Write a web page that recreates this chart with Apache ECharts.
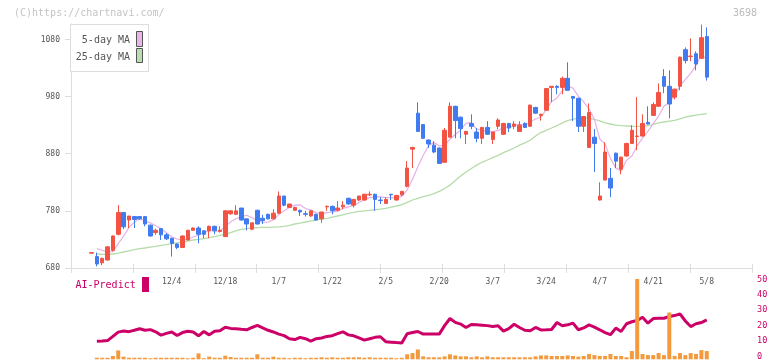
<!DOCTYPE html>
<html><head><meta charset="utf-8">
<script src="https://cdn.jsdelivr.net/npm/echarts@6/dist/echarts.min.js"></script>
<style>html,body{margin:0;padding:0;background:#fff}#c{width:772px;height:361px}</style>
</head><body><div id="c"></div>
<script>
const dates = ['11/13','11/14','11/15','11/18','11/19','11/20','11/21','11/22','11/25','11/26','11/27','11/28','11/29','12/2','12/3','12/4','12/5','12/6','12/9','12/10','12/11','12/12','12/13','12/16','12/17','12/18','12/19','12/20','12/23','12/24','12/25','12/26','12/27','12/30','1/6','1/7','1/8','1/9','1/10','1/14','1/15','1/16','1/17','1/20','1/21','1/22','1/23','1/24','1/27','1/28','1/29','1/30','1/31','2/3','2/4','2/5','2/6','2/7','2/10','2/12','2/13','2/14','2/17','2/18','2/19','2/20','2/21','2/25','2/26','2/27','2/28','3/3','3/4','3/5','3/6','3/7','3/10','3/11','3/12','3/13','3/14','3/17','3/18','3/19','3/21','3/24','3/25','3/26','3/27','3/28','3/31','4/1','4/2','4/3','4/4','4/7','4/8','4/9','4/10','4/11','4/14','4/15','4/16','4/17','4/18','4/21','4/22','4/23','4/24','4/25','4/28','4/30','5/1','5/2','5/7','5/8'];

const openV = [706,700,689,694,711,739,777,764,770,770,
770,755,742,749,738,732,722,716,729,746,
750,745,745,753,744,735,775,774,785,766,
748,781,767,774,766,776,806,786,781,781,
775,771,774,766,787,788,781,787,802,790,
799,799,808,809,799,793,809,799,808,823,
888,951,931,904,895,890,865,909,963,944,
914,933,918,907,926,905,928,914,933,928,
919,933,928,961,947,956,996,998,996,1012,
980,977,928,891,909,799,834,837,881,853,
876,898,910,911,935,947,963,1015,998,979,
998,1062,1050,1055,1047,1085];

const closeV = [707,687,697,717,736,777,752,771,765,766,
757,736,746,738,731,723,716,736,746,750,
739,739,753,745,746,780,780,780,764,757,
759,757,763,766,776,806,790,792,786,778,
774,780,764,778,788,780,785,790,792,800,
806,809,809,800,798,800,808,807,814,855,
891,919,907,897,883,863,921,963,938,924,
919,928,907,926,914,918,939,933,925,932,
930,926,965,951,949,994,998,996,1012,991,
977,928,945,952,898,806,883,820,867,874,
898,921,911,933,932,966,987,998,967,993,
1049,1043,1051,1037,1083,1014];

const lowV = [705,683,685,693,709,737,748,750,750,764,
753,735,738,729,729,700,713,715,728,745,
723,732,732,739,742,734,773,773,763,746,
746,756,757,765,765,775,788,785,781,771,
770,770,763,759,780,774,781,783,791,786,
797,798,806,780,792,793,799,798,806,821,
855,919,906,890,881,863,864,908,907,907,
897,923,900,897,913,897,923,913,918,923,
919,925,927,950,938,955,970,984,984,990,
937,918,918,890,848,798,833,804,855,844,
875,897,886,910,931,946,962,986,942,975,
991,1038,1042,1026,1046,1008];

const highV = [707,707,698,718,737,790,778,771,771,771,
771,756,749,750,741,733,723,737,747,751,
753,746,754,754,753,781,781,790,785,766,
759,782,773,775,783,814,806,792,787,782,
780,781,775,778,789,789,797,797,803,801,
806,810,814,810,804,804,809,808,815,867,
892,970,932,905,902,891,925,970,964,945,
920,949,925,927,937,918,942,934,934,937,
937,935,966,962,950,995,998,1000,1015,1040,
981,978,946,968,923,830,900,855,882,875,
899,930,979,949,963,970,1003,1028,1026,994,
1050,1066,1082,1059,1106,1101];

const ma5 = ['-',714,711,708,708.8,722.8,735.8,750.6,760.2,766.2,
762.2,759,754,748.6,741.6,734.8,730.8,728.8,730.4,734.2,
737.4,742,745.4,745.2,744.4,752.6,760.8,766.2,770,772.2,
768,763.4,760,760.4,764.2,773.6,780.2,786,790,790.4,
784,782,776.4,774.8,776.8,778,779,784.2,787,789.4,
794.6,799.4,803.2,804.8,804.4,803.2,803,802.6,805.4,816.8,
835,857.2,877.2,893.8,899.4,893.8,894.2,905.4,913.6,921.8,
933,934.4,923.2,920.8,918.8,918.6,920.8,926,925.8,929.4,
931.8,929.2,935.6,940.8,944.2,957,971.4,977.6,989.8,998.2,
994.8,980.8,970.6,958.6,940,905.8,896.8,871.8,854.8,850,
868.4,876,894.2,907.4,919,932.6,945.8,963.2,970,982.2,
998.8,1010,1020.6,1034.6,1052.6,1045.6];

const ma25 = ['-',704.5,704,704,704.5,706,708,710,712,714,
715,716.5,718,719.5,721,722.5,724,725.5,727,729,
730,731.5,733,735,737,739,742,745,747.5,749,
750,750.5,751,751,751.5,752,753,754.5,757,758.5,
760.5,762.5,764,765.5,767,769,771,773,775.5,777.5,
779,780,781,782,783,784.5,786.5,788.5,791,795,
799,802,805,807,810,814,819,825,833,841,
848,854,860,865,869,873,877,882,886,890,
895,899,903.5,911,917,921,925,929,934,938,
940.5,942,943,942,940,937.5,934,932,930,929,
928.5,928,928,928,929,931.5,934,935.5,937,938.5,
941,944,946,947.5,949,950];

const aiPredict = ['-',9.8,10,10.3,13,15.8,16.5,16.1,17,18,
17,17.4,16,13.8,15,15.9,13.6,15.5,16.4,15.9,
13.4,16.2,14,16.4,16.6,18.9,18.2,18,17.6,17.3,
18.8,20.1,18.5,17,15.9,14.5,13.5,11.5,11,12.4,
11.5,10,11.5,12,13,13.5,14.8,16,14,13.4,
12,10.6,11.5,12.4,12.8,9.6,9.3,9,8.8,14.7,
15.5,16.2,14.5,14.5,14.5,14.5,20,24.6,22.1,21,
18.8,20.7,20.5,20.3,20,19.4,19.9,16.4,18,20.9,
18.8,17,16.7,18.8,17.2,17.3,17.5,22,19.9,20.5,
21.6,17.3,18.5,20.5,19,17.3,15.5,14.1,18.4,16.2,
21.2,22.5,23.3,25.4,21.6,24.6,24.8,24.8,25.9,26.5,
27.6,23,19.4,21.2,22,23.7];

const volume = ['-',1,1,1,2.1,5.7,1.7,1,1,1,
1,0.7,1,1,1,1,1,1,0.7,1,
3.8,0.7,1.7,1,1,2.3,1.5,1,1,1,
1,3.2,1,1,1.7,1,1,0.7,1,1,
0.7,1,1,1.3,1,1.3,1,1,1.3,1.3,
1.3,1,1.3,1,1,1,1,0.7,1,3.2,
4,6.3,1.9,1.3,1.3,1.3,1.9,3.2,2.5,1.9,
1.9,1.3,1.9,1.3,1.9,1.3,1.3,1.3,1.3,1.3,
1.3,1.3,1.3,1.9,2.5,2.5,2.1,2.1,2.1,2.5,
2.1,1.7,2.1,3.4,2.7,2.1,2.1,3.4,2.1,2.1,
1.3,5.3,51.5,3.4,2.7,2.7,4,2.7,30,2.1,
4,2.7,4,3.4,5.9,5.3];

const priceTicks = [680,780,880,980,1080];
const lowerTicks = [0,10,20,30,40,50];
const labelStart = 15, labelEvery = 10;

const MONO = '"DejaVu Sans Mono","Liberation Mono",monospace';
const RED = '#F25343', BLUE = '#407CF0';
const candleData = dates.map((d, i) => [openV[i], closeV[i], lowV[i], highV[i]]);

const plotL = 88.825, plotR = 62.575;
const chart = echarts.init(document.getElementById('c'), null, {renderer: 'canvas'});
chart.setOption({
  animation: false,
  backgroundColor: '#fff',
  grid: [
    {left: plotL, right: plotR, top: 24, bottom: 93},
    {left: 71, right: 20, top: 24, bottom: 93},
    {left: plotL, right: plotR, top: 279.3, bottom: 3.7},
    {left: plotL, right: plotR, top: 279, bottom: 1.7}
  ],
  xAxis: [
    {type: 'category', gridIndex: 0, data: dates, boundaryGap: true,
     axisLine: {show: false}, axisTick: {show: false}, splitLine: {show: false},
     axisLabel: {interval: (i) => i >= labelStart && (i - labelStart) % labelEvery === 0,
       margin: 10, fontFamily: MONO, fontSize: 8, color: '#555'}},
    {type: 'value', gridIndex: 1, min: 0, max: 11, interval: 1, position: 'bottom',
     axisLine: {onZero: false, lineStyle: {color: '#ddd'}},
     axisTick: {length: 5, lineStyle: {color: '#ddd'}},
     axisLabel: {show: false}, splitLine: {show: false}},
    {type: 'value', gridIndex: 1, min: 0, max: 11, interval: 1, position: 'bottom',
     axisLine: {show: false, onZero: false},
     axisTick: {inside: true, length: 4, lineStyle: {color: '#ddd'}},
     axisLabel: {show: false}, splitLine: {show: false}},
    {type: 'category', gridIndex: 2, data: dates, show: false},
    {type: 'category', gridIndex: 3, data: dates, show: false}
  ],
  yAxis: [
    {type: 'value', gridIndex: 0, min: 680, max: 1107, show: false, splitLine: {show: false}},
    {type: 'value', gridIndex: 1, min: 680, max: 1107, position: 'left',
     axisLine: {show: true, onZero: false, lineStyle: {color: '#ddd'}},
     axisTick: {show: true, length: 6, customValues: priceTicks, lineStyle: {color: '#ddd'}},
     axisLabel: {customValues: priceTicks, formatter: (v) => String(v), margin: 11, fontFamily: MONO, fontSize: 8, color: '#555'},
     splitLine: {show: false}},
    {type: 'value', gridIndex: 2, min: 0, max: 50, position: 'right', offset: 42.6,
     axisLine: {show: false}, axisTick: {show: false}, splitLine: {show: false},
     axisLabel: {customValues: lowerTicks, formatter: (v) => String(v), margin: 5, fontFamily: MONO, fontSize: 8.5, color: '#CC0066'}},
    {type: 'value', gridIndex: 3, min: 0, max: 51.5, show: false, splitLine: {show: false}}
  ],
  series: [
    {type: 'line', xAxisIndex: 0, yAxisIndex: 0, data: ma25, symbol: 'none', z: 2,
     lineStyle: {color: '#B6DCAA', width: 1.3}},
    {type: 'line', xAxisIndex: 0, yAxisIndex: 0, data: ma5, symbol: 'none', z: 2,
     lineStyle: {color: '#E6B0E8', width: 1.2}},
    {type: 'candlestick', xAxisIndex: 0, yAxisIndex: 0, data: candleData, barWidth: 4, z: 3,
     itemStyle: {color: RED, color0: BLUE, borderColor: RED, borderColor0: BLUE, borderWidth: 1}},
    {type: 'line', xAxisIndex: 3, yAxisIndex: 2, data: aiPredict, symbol: 'none', z: 2,
     lineStyle: {color: '#CC0066', width: 3}},
    {type: 'bar', xAxisIndex: 4, yAxisIndex: 3, data: volume, barWidth: 4, z: 3,
     itemStyle: {color: '#F39A3E'}}
  ],
  graphic: [
    {type: 'text', x: 14, y: 13, z: 100, style: {text: '(C)https://chartnavi.com/', font: '10px ' + MONO, fill: '#c4c4c4', textVerticalAlign: 'middle'}},
    {type: 'text', x: 757, y: 13, z: 100, style: {text: '3698', font: '10px ' + MONO, fill: '#bbb', textAlign: 'right', textVerticalAlign: 'middle'}},
    {type: 'rect', z: 100, shape: {x: 70.5, y: 24.5, width: 78, height: 47}, style: {fill: '#fff', stroke: '#ddd', lineWidth: 1}},
    {type: 'text', x: 130, y: 40.5, z: 101, style: {text: '5-day MA', font: '10px ' + MONO, fill: '#555', textAlign: 'right', textVerticalAlign: 'middle'}},
    {type: 'text', x: 130, y: 57, z: 101, style: {text: '25-day MA', font: '10px ' + MONO, fill: '#555', textAlign: 'right', textVerticalAlign: 'middle'}},
    {type: 'rect', z: 101, shape: {x: 136.5, y: 31.5, width: 6, height: 15}, style: {fill: '#EAB6EA', stroke: '#555', lineWidth: 1}},
    {type: 'rect', z: 101, shape: {x: 136.5, y: 48.5, width: 6, height: 14}, style: {fill: '#B9DCB0', stroke: '#555', lineWidth: 1}},
    {type: 'text', x: 75.5, y: 285.5, z: 100, style: {text: 'AI-Predict', font: '10px ' + MONO, fill: '#CC0066', textVerticalAlign: 'middle'}},
    {type: 'rect', z: 100, shape: {x: 142, y: 277, width: 7, height: 15}, style: {fill: '#CC0066'}}
  ]
});
</script>
</body></html>
